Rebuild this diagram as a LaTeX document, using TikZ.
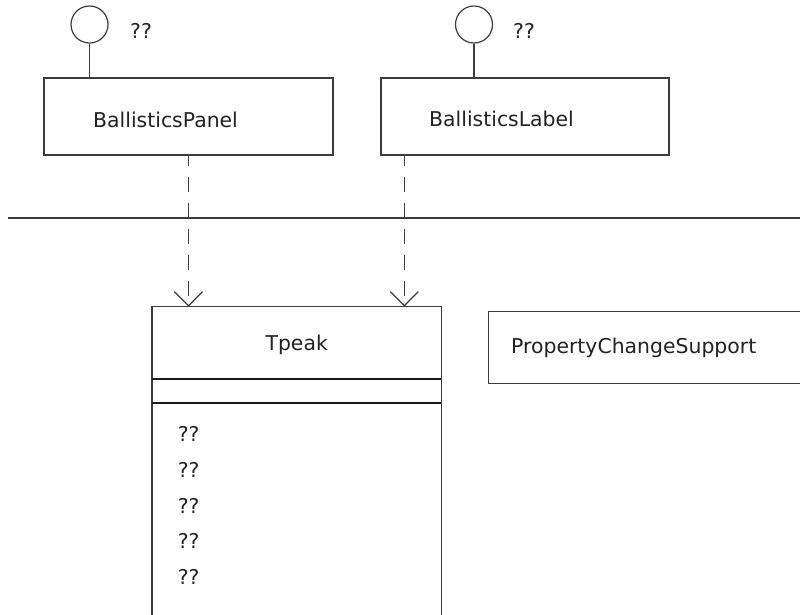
\documentclass[tikz,border=0pt]{standalone}
\usepackage{fontspec}
\setmainfont{DejaVu Sans}
\usetikzlibrary{arrows.meta,calc}
\definecolor{ln}{RGB}{60,60,60}
\definecolor{tx}{RGB}{34,34,34}
\tikzset{
  box/.style={draw=ln,line width=1.3pt,rectangle,inner sep=0pt},
  iface/.style={draw=ln,line width=1.2pt,circle,minimum size=37pt,inner sep=0pt},
  txt/.style={anchor=base west,inner sep=0pt,text=tx,font=\fontsize{20.4}{24}\selectfont},
  dep/.style={draw=ln,line width=1.3pt,dash pattern=on 15pt off 11pt,dash phase=5pt,-{Straight Barb[length=14pt,width=28pt,line width=1.2pt]}},
  stem/.style={draw=ln,line width=1.3pt},
  sep/.style={draw=black!90,line width=2pt}
}
\begin{document}
\begin{tikzpicture}[x=1pt,y=-1pt]
\useasboundingbox (0,0) rectangle (800,614);
\clip (0,0) rectangle (800,614);
% top classes
\node[box,minimum width=289pt,minimum height=77pt] (panel) at (188.5,116.5) {};
\node[box,minimum width=288pt,minimum height=77pt] (lbl) at (525,116.5) {};
\node[txt] (paneltxt) at (93,127.3) {BallisticsPanel};
\node[txt] (lbltxt) at (429,126.7) {BallisticsLabel};
% interfaces
\node[iface] (ic1) at (89.5,24.5) {};
\node[iface] (ic2) at (474,24.5) {};
\node[txt] (q1) at (130,38.3) {??};
\node[txt] (q2) at (513,38.3) {??};
\draw[stem] (ic1.south) -- (ic1.south |- panel.north);
\draw[stem] (ic2.south) -- (ic2.south |- lbl.north);
% package line
\coordinate (hl) at (8,218);
\coordinate (hr) at (800,218);
\draw[stem] (hl) -- (hr);
% Tpeak class (open at bottom)
\node[inner sep=0pt,minimum width=288.7pt,minimum height=320pt] (tpeak) at (296.65,466.7) {};
\draw[box] (tpeak.south west) -- (tpeak.north west) -- (tpeak.north east) -- (tpeak.south east);
\draw[sep] ($(tpeak.north west)+(0,72.3)$) -- ($(tpeak.north east)+(0,72.3)$);
\draw[sep] ($(tpeak.north west)+(0,96)$) -- ($(tpeak.north east)+(0,96)$);
\node[anchor=base,inner sep=0pt,text=tx,font=\fontsize{20.4}{24}\selectfont] (tpeaktxt) at (296.7,350) {Tpeak};
\node[txt] (m1) at (177.7,441.7) {??};
\node[txt] (m2) at (177.7,477.4) {??};
\node[txt] (m3) at (177.7,513.1) {??};
\node[txt] (m4) at (177.7,548.8) {??};
\node[txt] (m5) at (177.7,584.5) {??};
% PropertyChangeSupport (cut by right edge)
\node[inner sep=0pt,minimum width=330pt,minimum height=71.6pt] (pcs) at (654,347.5) {};
\draw[box] (pcs.north east) -- (pcs.north west) -- (pcs.south west) -- (pcs.south east);
\node[txt] (pcstxt) at (511,353.3) {PropertyChangeSupport};
% dependencies
\coordinate (d1) at (panel.south);
\coordinate (d2) at ($(lbl.south west)+(24,0)$);
\draw[dep] (d1) -- (d1 |- tpeak.north);
\draw[dep] (d2) -- (d2 |- tpeak.north);
\end{tikzpicture}
\end{document}
